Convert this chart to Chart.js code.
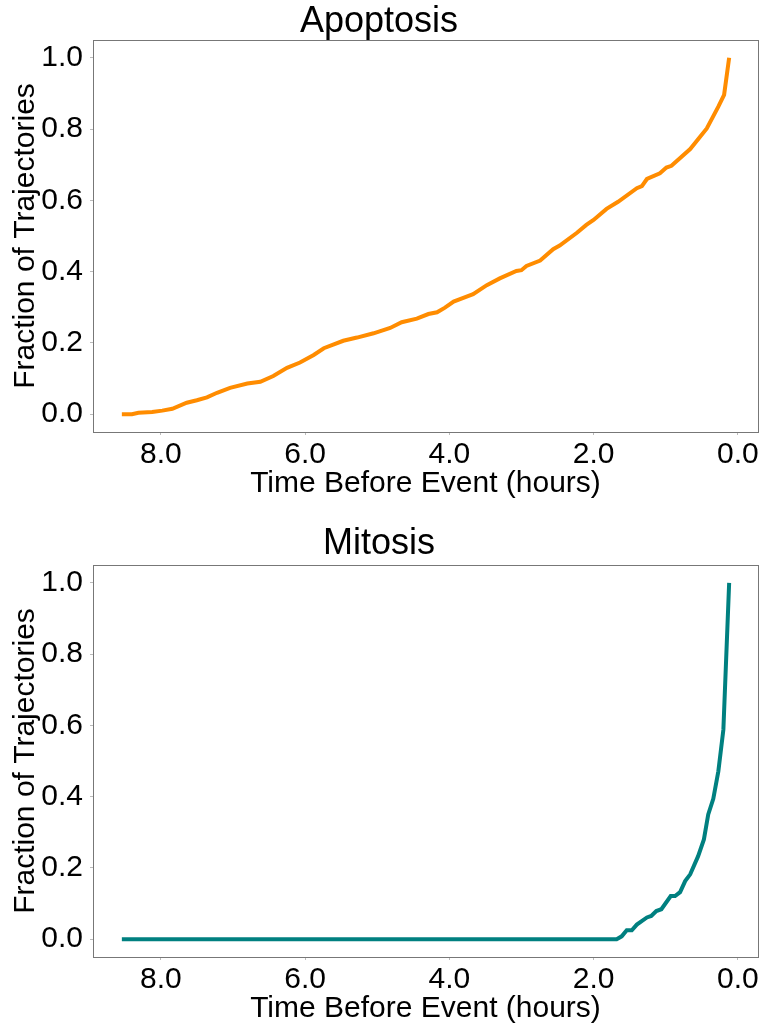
<!DOCTYPE html>
<html>
<head>
<meta charset="utf-8">
<script src="https://cdn.jsdelivr.net/npm/chart.js@4.4.1/dist/chart.umd.min.js"></script>
<style>
  html, body { margin: 0; padding: 0; background: #fff; }
  canvas { display: block; }
</style>
</head>
<body>
<canvas id="apoptosis-chart" width="761" height="501"></canvas>
<canvas id="mitosis-chart" width="761" height="525"></canvas>
<script>
// hours before the event and fraction of trajectories
const apoptosisHours = [8.54, 8.40, 8.31, 8.12, 7.98, 7.84, 7.64, 7.50, 7.36, 7.22,
    7.04, 6.80, 6.62, 6.44, 6.25, 6.07, 5.88, 5.74, 5.47, 5.28,
    5.05, 4.82, 4.66, 4.45, 4.29, 4.17, 4.06, 3.94, 3.76, 3.67,
    3.48, 3.30, 3.07, 3.00, 2.93, 2.74, 2.56, 2.47, 2.23, 2.10,
    2.00, 1.82, 1.66, 1.40, 1.33, 1.26, 1.08, 0.99, 0.92, 0.66,
    0.43, 0.27, 0.19, 0.12]
const apoptosisFraction = [0.000, 0.000, 0.004, 0.006, 0.010, 0.015, 0.032, 0.039, 0.047, 0.060,
    0.074, 0.086, 0.091, 0.107, 0.130, 0.145, 0.166, 0.185, 0.206, 0.215,
    0.227, 0.242, 0.258, 0.268, 0.281, 0.286, 0.299, 0.316, 0.330, 0.337,
    0.362, 0.381, 0.402, 0.404, 0.416, 0.431, 0.463, 0.473, 0.509, 0.531,
    0.545, 0.576, 0.596, 0.634, 0.640, 0.660, 0.676, 0.692, 0.697, 0.744,
    0.802, 0.863, 0.896, 1.000]

const mitosisHours = [8.54, 1.68, 1.61, 1.54, 1.47, 1.40, 1.26, 1.20, 1.13, 1.06,
    0.93, 0.87, 0.80, 0.73, 0.66, 0.55, 0.47, 0.41, 0.34, 0.27,
    0.20, 0.12]
const mitosisFraction = [0.000, 0.000, 0.008, 0.025, 0.025, 0.041, 0.061, 0.065, 0.079, 0.084,
    0.121, 0.121, 0.132, 0.163, 0.182, 0.233, 0.280, 0.350, 0.394, 0.471,
    0.588, 1.000]

const xTicks = [8, 6, 4, 2, 0]
const yTicks = [0, 0.2, 0.4, 0.6, 0.8, 1.0]

const fontFamily = "'Liberation Sans', Arial, sans-serif"

// matplotlib style frame round the plot area
const frame = {
    id: "frame",
    afterDraw(chart) {
        const a = chart.chartArea
        const c = chart.ctx
        c.save()
        c.lineWidth = 1
        c.strokeStyle = "#777"
        c.strokeRect(Math.round(a.left) + 0.5, Math.round(a.top) + 0.5,
                     Math.round(a.right - a.left), Math.round(a.bottom - a.top))
        c.restore()
    }
}

// titleBlock: height above the plot area, titleTop: padding above the title text
function renderChart(canvasId, title, hours, fraction, color, titleBlock, titleTop){
    const points = hours.map((h, i) => ({ x: h, y: fraction[i] }))
    new Chart(document.getElementById(canvasId), {
        type: 'line',
        data: {
            datasets: [{
                label: title,
                data: points,
                borderColor: color,
                borderWidth: 4,
                pointRadius: 0,
                tension: 0,
                fill: false
            }]
        },
        plugins: [frame],
        options: {
            responsive: false,
            animation: false,
            layout: { padding: { left: 0, right: 3, top: 0, bottom: 0 } },
            plugins: {
                legend: { display: false },
                tooltip: { enabled: false },
                title: {
                    display: true,
                    text: title,
                    color: "#000",
                    font: { family: fontFamily, size: 36, weight: 'normal', lineHeight: 1 },
                    padding: { top: titleTop, bottom: titleBlock - 36 - titleTop }
                }
            },
            scales: {
                x: {
                    type: 'linear',
                    reverse: true,
                    min: -0.28,
                    max: 8.94,
                    afterBuildTicks: (axis) => { axis.ticks = xTicks.map(v => ({ value: v })) },
                    afterFit: (axis) => { axis.height = 69 },
                    grid: { drawOnChartArea: false, tickLength: 3, color: "#bbb" },
                    border: { display: false },
                    ticks: {
                        color: "#000",
                        padding: 2,
                        maxRotation: 0,
                        font: { family: fontFamily, size: 30 },
                        callback: (v) => Number(v).toFixed(1)
                    },
                    title: {
                        display: true,
                        text: "Time Before Event (hours)",
                        color: "#000",
                        font: { family: fontFamily, size: 30, lineHeight: 1 },
                        padding: { top: 0, bottom: 2 }
                    }
                },
                y: {
                    min: -0.05,
                    max: 1.05,
                    afterBuildTicks: (axis) => { axis.ticks = yTicks.map(v => ({ value: v })) },
                    afterFit: (axis) => { axis.width = 93 },
                    grid: { drawOnChartArea: false, tickLength: 3, color: "#bbb" },
                    border: { display: false },
                    ticks: {
                        color: "#000",
                        padding: 7,
                        font: { family: fontFamily, size: 30 },
                        callback: (v) => Number(v).toFixed(1)
                    },
                    title: {
                        display: true,
                        text: "Fraction of Trajectories",
                        color: "#000",
                        font: { family: fontFamily, size: 30, lineHeight: 1 },
                        padding: { top: 11, bottom: 0 }
                    }
                }
            }
        }
    })
}

renderChart("apoptosis-chart", "Apoptosis", apoptosisHours, apoptosisFraction, "#ff8c00", 40, 4)
renderChart("mitosis-chart", "Mitosis", mitosisHours, mitosisFraction, "#008080", 64, 25)
</script>
</body>
</html>
